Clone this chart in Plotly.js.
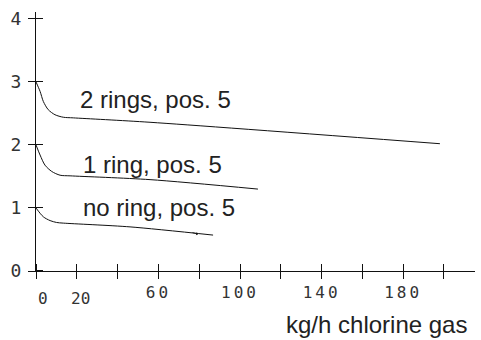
<!DOCTYPE html>
<html>
<head>
<meta charset="utf-8">
<script src="https://cdn.plot.ly/plotly-3.0.1.min.js"></script>
<style>
html,body{margin:0;padding:0;background:#fff;}
#chart{width:481px;height:340px;}
.xtick text{letter-spacing:3px;}
</style>
</head>
<body>
<div id="chart"></div>
<script>
// x: chlorine gas flow (kg/h), y: value
const xTicks = [0, 20, 40, 60, 80, 100, 120, 140, 160, 180, 200];
const xTickText = ['', '', '', '60', '', '100', '', '140', '', '180', ''];
const xLowLabels = ['0', '20'];
const xLowLabelPos = [0, 20];
const yTicks = [0, 1, 2, 3, 4];
const yTickText = ['0', '1', '2', '3', '4'];

const flowTwoRings = [0, 2.0, 3.6, 6.0, 9.3, 13.4, 18.3, 55.9, 198];
const valTwoRings  = [3.0, 2.85, 2.69, 2.56, 2.48, 2.44, 2.43, 2.36, 2.02];
const flowOneRing  = [0, 2.0, 4.4, 7.7, 11.8, 16.7, 55.9, 108.8];
const valOneRing   = [2.0, 1.84, 1.68, 1.58, 1.52, 1.51, 1.45, 1.30];
const flowNoRing   = [0, 3.6, 6.9, 10.1, 13.4, 46.1, 86.8];
const valNoRing    = [1.0, 0.86, 0.80, 0.77, 0.76, 0.70, 0.57];

const seriesLabels = ['2 rings, pos. 5', '1 ring, pos. 5', 'no ring, pos. 5'];
const labelX = [20.5, 22, 22];
const labelY = [2.72, 1.69, 1.0];
const xTitle = 'kg/h chlorine gas';

const xRange = [0, 215.2];
const yRange = [0, 4.11];
// tiny offset so the inner half of each crossing tick is kept as a separate minor tick
const eps = 1e-4;

const lineStyle = {color: '#111', width: 1, shape: 'spline', smoothing: 0.8};
const traces = [
  {x: flowTwoRings, y: valTwoRings, mode: 'lines', line: lineStyle, hoverinfo: 'skip'},
  {x: flowOneRing, y: valOneRing, mode: 'lines', line: lineStyle, hoverinfo: 'skip'},
  {x: flowNoRing, y: valNoRing, mode: 'lines', line: lineStyle, hoverinfo: 'skip'}
];

const tickFont = {family: 'DejaVu Sans Mono', size: 16, color: '#333'};
const labelFont = {family: 'Liberation Sans, Arial, sans-serif', size: 24, color: '#222'};

const annotations = seriesLabels.map((t, i) => ({
  text: t, x: labelX[i], y: labelY[i], xref: 'x', yref: 'y',
  xanchor: 'left', yanchor: 'middle', showarrow: false, font: labelFont
}));
annotations.push({
  text: xTitle, xref: 'paper', yref: 'paper', x: 0.986, y: -0.205,
  xanchor: 'right', yanchor: 'middle', showarrow: false, font: labelFont
});
xLowLabels.forEach((t, i) => annotations.push({
  text: t, x: xLowLabelPos[i], xref: 'x', yref: 'paper', y: -0.105,
  xanchor: 'center', yanchor: 'middle', xshift: i === 0 ? 7 : 4,
  showarrow: false, font: tickFont
}));
annotations.push({
  text: '', x: 79.4, y: 0.585, xref: 'x', yref: 'y', showarrow: true,
  ax: -7, ay: -2, arrowhead: 1, arrowsize: 0.7, arrowwidth: 0.8, arrowcolor: '#111'
});

const layout = {
  width: 481, height: 340,
  margin: {l: 36, r: 6, t: 12, b: 69, pad: 0},
  paper_bgcolor: '#fff', plot_bgcolor: '#fff',
  showlegend: false,
  xaxis: {
    range: xRange, tickvals: xTicks, ticktext: xTickText,
    ticks: 'outside', ticklen: 7, tickwidth: 1, tickcolor: '#111',
    minor: {tickmode: 'array', tickvals: xTicks.map(v => v + eps), ticks: 'inside',
            ticklen: 7, tickwidth: 1, tickcolor: '#111', showgrid: false},
    showline: true, linecolor: '#111', linewidth: 1,
    showgrid: false, zeroline: false, tickfont: tickFont, ticklabelstandoff: 0
  },
  yaxis: {
    range: yRange, tickvals: yTicks, ticktext: yTickText,
    ticks: 'outside', ticklen: 7, tickwidth: 1, tickcolor: '#111',
    minor: {tickmode: 'array', tickvals: yTicks.map(v => v + eps), ticks: 'inside',
            ticklen: 7, tickwidth: 1, tickcolor: '#111', showgrid: false},
    showline: true, linecolor: '#111', linewidth: 1,
    showgrid: false, zeroline: false,
    tickfont: {family: 'DejaVu Sans Mono', size: 18, color: '#333'},
    ticklabelstandoff: 3
  },
  annotations: annotations
};

Plotly.newPlot('chart', traces, layout, {staticPlot: true, displayModeBar: false});
</script>
</body>
</html>
